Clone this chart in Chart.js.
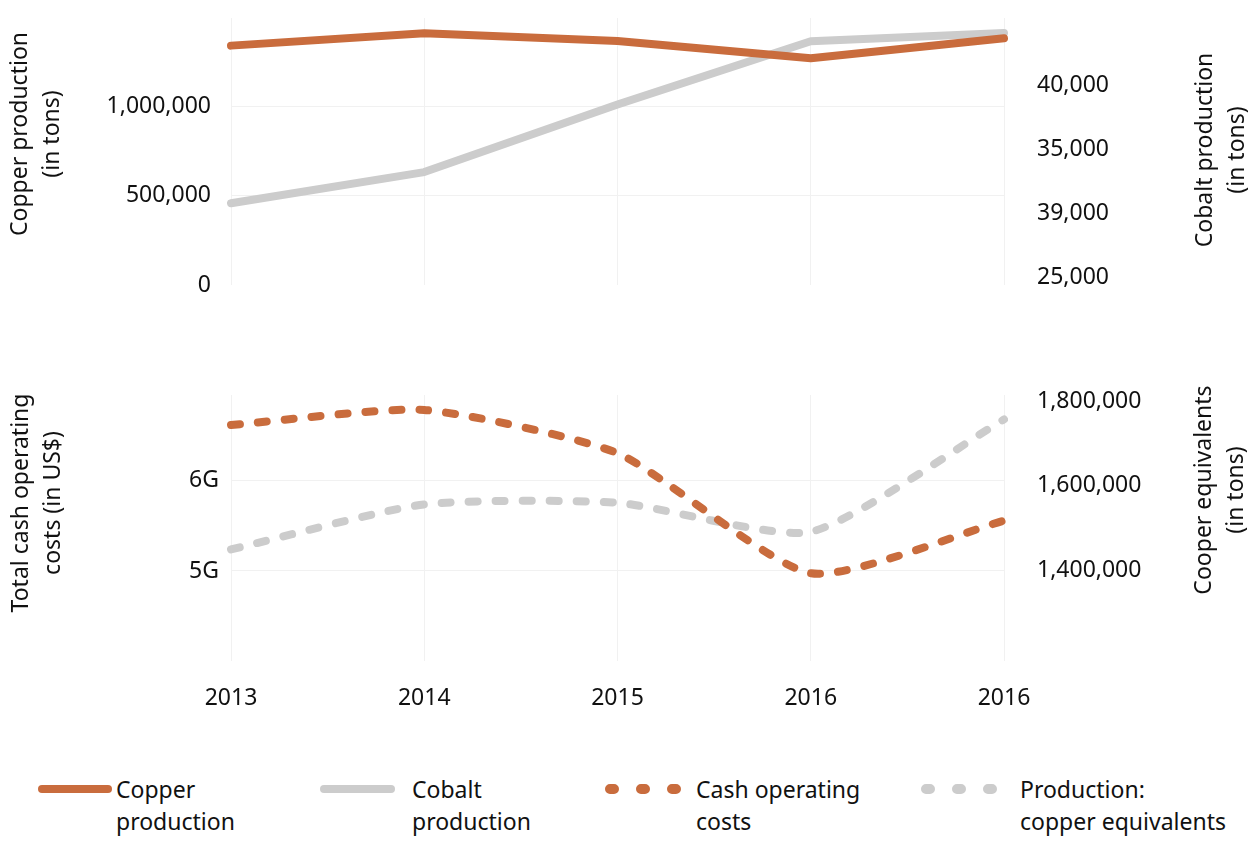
<!DOCTYPE html>
<html>
<head>
<meta charset="utf-8">
<script src="https://cdn.jsdelivr.net/npm/chart.js@4.4.0/dist/chart.umd.min.js"></script>
<style>
    body { margin: 0; width: 1254px; height: 843px; background: #fff; position: relative; overflow: hidden; font-family: "Noto Sans", sans-serif; color: #111; }
    #topBox { position: absolute; left: 0; top: 0; width: 1254px; height: 300px; }
    #bottomBox { position: absolute; left: 0; top: 380px; width: 1254px; height: 340px; }
    .legend-sample { position: absolute; top: 780px; }
    .legend-text { position: absolute; top: 773px; font-size: 23px; line-height: 32px; }
</style>
</head>
<body>
<div id="topBox"><canvas id="topChart"></canvas></div>
<div id="bottomBox"><canvas id="bottomChart"></canvas></div>

<!-- legend -->
<svg class="legend-sample" style="left:30px" width="90" height="18"><line x1="12" y1="9" x2="78" y2="9" stroke="#c96c3d" stroke-width="8" stroke-linecap="round"/></svg>
<div class="legend-text" style="left:116px">Copper<br>production</div>
<svg class="legend-sample" style="left:312px" width="90" height="18"><line x1="12" y1="9" x2="79" y2="9" stroke="#cccccc" stroke-width="8" stroke-linecap="round"/></svg>
<div class="legend-text" style="left:412px">Cobalt<br>production</div>
<svg class="legend-sample" style="left:600px" width="90" height="18"><line x1="10" y1="9" x2="76" y2="9" stroke="#c96c3d" stroke-width="10" stroke-linecap="round" stroke-dasharray="4 27"/></svg>
<div class="legend-text" style="left:696px">Cash operating<br>costs</div>
<svg class="legend-sample" style="left:916px" width="90" height="18"><line x1="10" y1="9" x2="76" y2="9" stroke="#cccccc" stroke-width="10" stroke-linecap="round" stroke-dasharray="4 27"/></svg>
<div class="legend-text" style="left:1020px">Production:<br>copper equivalents</div>

<script>
// x categories (last year repeats as in the source)
const years = ['2013', '2014', '2015', '2016', '2016'];

// top panel
const copperProduction = [1343000, 1412000, 1369000, 1272000, 1384000];
const cobaltProduction = [30800, 33240, 38530, 43480, 44140];
const copperTicks = [0, 500000, 1000000];
const copperTickLabels = ['0', '500,000', '1,000,000'];
const cobaltTicks = [25000, 30000, 35000, 40000];
const cobaltTickLabels = ['25,000', '39,000', '35,000', '40,000'];

// bottom panel
const cashCosts = [6.617e9, 6.783e9, 6.304e9, 4.975e9, 5.557e9];
const copperEquivalents = [1449000, 1556000, 1560000, 1491000, 1758000];
const costTicks = [5e9, 6e9];
const costTickLabels = ['5G', '6G'];
const equivTicks = [1400000, 1600000, 1800000];
const equivTickLabels = ['1,400,000', '1,600,000', '1,800,000'];

const ORANGE = '#c96c3d';
const GREY = '#cccccc';
const GRID = '#f1f1f1';
const FONT = { family: '"Noto Sans", sans-serif', size: 23 };

Chart.defaults.color = '#111';
Chart.defaults.font.family = FONT.family;
Chart.defaults.font.size = FONT.size;

// rotated two-line axis titles, both sides read bottom-to-top
function sideTitles(items) {
    return {
        id: 'sideTitles',
        afterDraw(chart) {
            const ctx = chart.ctx;
            items.forEach(t => {
                ctx.save();
                ctx.translate(t.x, t.y);
                ctx.rotate(-Math.PI / 2);
                ctx.font = FONT.size + 'px ' + FONT.family;
                ctx.fillStyle = '#111';
                ctx.textAlign = 'center';
                ctx.textBaseline = 'middle';
                t.text.forEach((line, i) => ctx.fillText(line, 0, (i - (t.text.length - 1) / 2) * 32));
                ctx.restore();
            });
        }
    };
}

function fixedTicks(values) {
    return scale => { scale.ticks = values.map(v => ({ value: v })); };
}

// fixed side width, and no extra top/bottom room for tick labels
function fitSide(width) {
    return scale => {
        scale.width = width;
        scale.paddingTop = 0;
        scale.paddingBottom = 0;
    };
}

const xGrid = { color: GRID, drawTicks: false, lineWidth: 1 };

new Chart(document.getElementById('topChart'), {
    type: 'line',
    data: {
        labels: years,
        datasets: [{
            label: 'Copper production',
            data: copperProduction,
            yAxisID: 'yCopper',
            borderColor: ORANGE,
            borderWidth: 8,
            borderCapStyle: 'round',
            borderJoinStyle: 'round',
            pointRadius: 0,
            tension: 0
        }, {
            label: 'Cobalt production',
            data: cobaltProduction,
            yAxisID: 'yCobalt',
            borderColor: GREY,
            borderWidth: 8,
            borderCapStyle: 'round',
            borderJoinStyle: 'round',
            pointRadius: 0,
            tension: 0
        }]
    },
    options: {
        responsive: true,
        maintainAspectRatio: false,
        animation: false,
        layout: { padding: { top: 18, bottom: 15 } },
        plugins: { legend: { display: false }, tooltip: { enabled: false } },
        scales: {
            x: {
                offset: false,
                ticks: { display: false },
                grid: xGrid,
                border: { display: false }
            },
            yCopper: {
                position: 'left',
                min: 0,
                max: 1498000,
                afterBuildTicks: fixedTicks(copperTicks),
                afterFit: fitSide(231),
                ticks: { padding: 20, callback: (v, i) => copperTickLabels[i] },
                grid: { drawTicks: false, color: c => (c.tick && c.tick.value === 0) ? 'rgba(0,0,0,0)' : GRID },
                border: { display: false }
            },
            yCobalt: {
                position: 'right',
                min: 24397,
                max: 45306,
                afterBuildTicks: fixedTicks(cobaltTicks),
                afterFit: fitSide(250),
                ticks: { padding: 33, callback: (v, i) => cobaltTickLabels[i] },
                grid: { display: false, drawTicks: false },
                border: { display: false }
            }
        }
    },
    plugins: [sideTitles([
        { text: ['Copper production', '(in tons)'], x: 36, y: 134 },
        { text: ['Cobalt production', '(in tons)'], x: 1221, y: 150 }
    ])]
});

new Chart(document.getElementById('bottomChart'), {
    type: 'line',
    data: {
        labels: years,
        datasets: [{
            label: 'Cash operating costs',
            data: cashCosts,
            yAxisID: 'yCost',
            borderColor: ORANGE,
            borderWidth: 8,
            borderDash: [9, 18],
            borderCapStyle: 'round',
            pointRadius: 0,
            tension: 0.2
        }, {
            label: 'Production: copper equivalents',
            data: copperEquivalents,
            yAxisID: 'yEquiv',
            borderColor: GREY,
            borderWidth: 8,
            borderDash: [9, 18],
            borderCapStyle: 'round',
            pointRadius: 0,
            tension: 0.2
        }]
    },
    options: {
        responsive: true,
        maintainAspectRatio: false,
        animation: false,
        layout: { padding: { top: 15, bottom: 0 } },
        plugins: { legend: { display: false }, tooltip: { enabled: false } },
        scales: {
            x: {
                offset: false,
                afterFit: s => { s.height = 59; },
                ticks: { padding: 24, autoSkip: false, maxRotation: 0 },
                grid: xGrid,
                border: { display: false }
            },
            yCost: {
                position: 'left',
                min: 4.003e9,
                max: 6.949e9,
                afterBuildTicks: fixedTicks(costTicks),
                afterFit: fitSide(231),
                ticks: { padding: 12, callback: (v, i) => costTickLabels[i] },
                grid: { drawTicks: false, color: GRID },
                border: { display: false }
            },
            yEquiv: {
                position: 'right',
                min: 1183800,
                max: 1816000,
                afterBuildTicks: fixedTicks(equivTicks),
                afterFit: fitSide(250),
                ticks: { padding: 33, callback: (v, i) => equivTickLabels[i] },
                grid: { display: false, drawTicks: false },
                border: { display: false }
            }
        }
    },
    plugins: [sideTitles([
        { text: ['Total cash operating', 'costs (in US$)'], x: 37, y: 123 },
        { text: ['Cooper equivalents', '(in tons)'], x: 1220, y: 110 }
    ])]
});
</script>
</body>
</html>
